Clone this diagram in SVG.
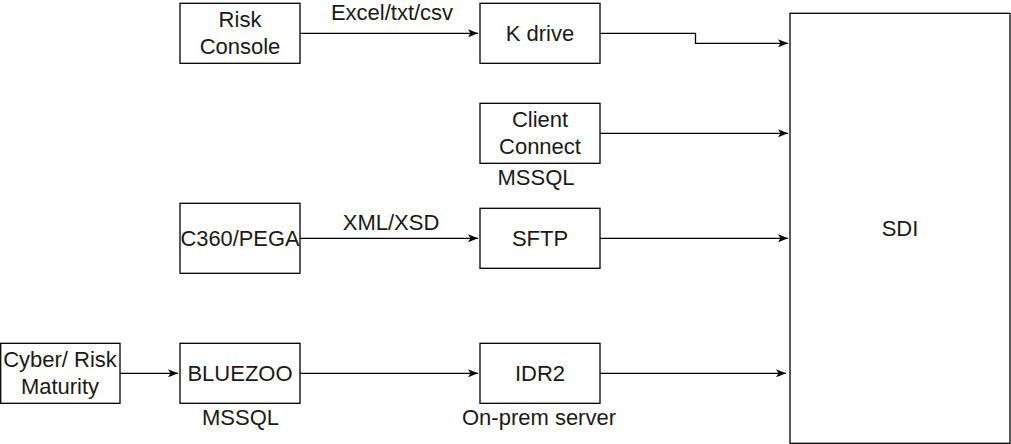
<svg xmlns="http://www.w3.org/2000/svg" width="1011" height="444" viewBox="0 0 1011 444">
<style>
.box{fill:#fff;stroke:#000;stroke-width:1.3}
.t{font-family:"Liberation Sans",Arial,sans-serif;font-size:22px;fill:#1a1a1a;text-anchor:middle}
.c{fill:none;stroke:#000;stroke-width:1.3}
</style>
<defs>
<marker id="ah" viewBox="0 0 10 8" refX="10" refY="4" markerWidth="10" markerHeight="8" markerUnits="userSpaceOnUse" orient="auto">
<path d="M0,0 L10,4 L0,8 L2.5,4 Z" fill="#000"/>
</marker>
</defs>
<rect width="1011" height="444" fill="#fff"/>
<g id="connectors">
<path class="c" d="M300,33.3 H478" marker-end="url(#ah)"/>
<path class="c" d="M600,33.3 H695.5 V43.3 H788" marker-end="url(#ah)"/>
<path class="c" d="M600,133.3 H788" marker-end="url(#ah)"/>
<path class="c" d="M300,238.3 H478" marker-end="url(#ah)"/>
<path class="c" d="M600,238.3 H788" marker-end="url(#ah)"/>
<path class="c" d="M120,373.3 H178" marker-end="url(#ah)"/>
<path class="c" d="M300,373.3 H478" marker-end="url(#ah)"/>
<path class="c" d="M600,373.3 H786" marker-end="url(#ah)"/>
<text class="t" x="392" y="20">Excel/txt/csv</text>
<text class="t" x="391" y="230">XML/XSD</text>
</g>
<g id="risk-console">
<rect class="box" x="180" y="3.3" width="120" height="60"/>
<text class="t" x="240" y="27">Risk</text>
<text class="t" x="240" y="54">Console</text>
</g>
<g id="k-drive">
<rect class="box" x="480" y="3.3" width="120" height="60"/>
<text class="t" x="540" y="41">K drive</text>
</g>
<g id="client-connect">
<rect class="box" x="480" y="103.3" width="120" height="60"/>
<text class="t" x="540" y="127">Client</text>
<text class="t" x="540" y="154">Connect</text>
<text class="t" x="536" y="185">MSSQL</text>
</g>
<g id="c360-pega">
<rect class="box" x="180" y="203.3" width="120" height="70"/>
<text class="t" x="240" y="246" textLength="119" lengthAdjust="spacingAndGlyphs">C360/PEGA</text>
</g>
<g id="sftp">
<rect class="box" x="480" y="208.3" width="120" height="60"/>
<text class="t" x="540" y="246">SFTP</text>
</g>
<g id="cyber-risk-maturity">
<rect class="box" x="0.7" y="343.3" width="119.3" height="60"/>
<text class="t" x="60" y="367">Cyber/ Risk</text>
<text class="t" x="60" y="394">Maturity</text>
</g>
<g id="bluezoo">
<rect class="box" x="180" y="343.3" width="120" height="60"/>
<text class="t" x="240" y="381">BLUEZOO</text>
<text class="t" x="240.5" y="425">MSSQL</text>
</g>
<g id="idr2">
<rect class="box" x="480" y="343.3" width="120" height="60"/>
<text class="t" x="540" y="381">IDR2</text>
<text class="t" x="539" y="425">On-prem server</text>
</g>
<g id="sdi">
<rect class="box" x="790" y="13.3" width="220" height="430"/>
<text class="t" x="900" y="236">SDI</text>
</g>
</svg>
